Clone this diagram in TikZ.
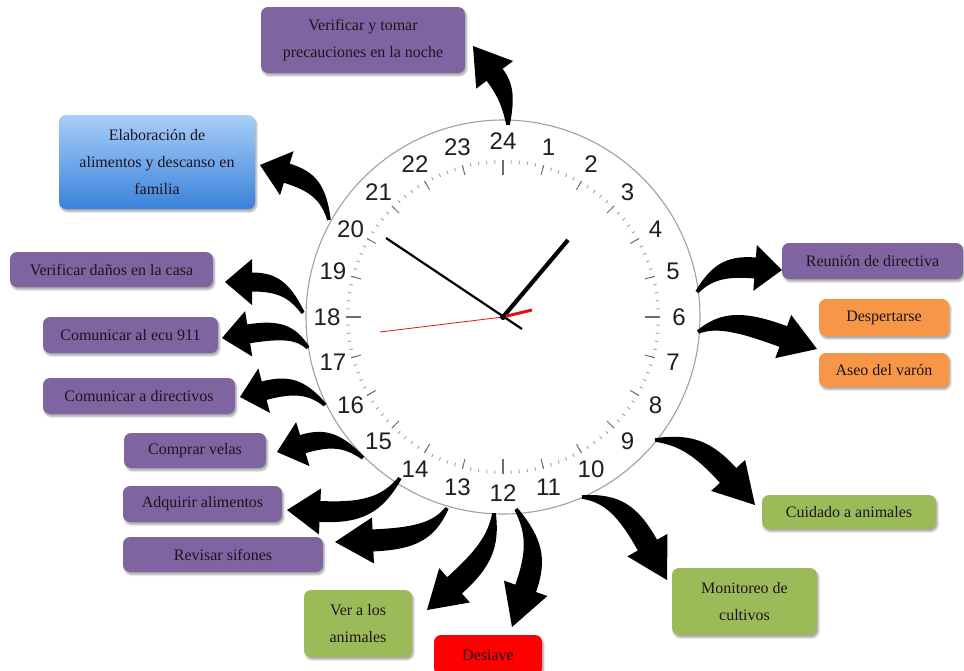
\documentclass[tikz,border=0pt]{standalone}
\usepackage{fontspec}
\setmainfont{Liberation Serif}
\newfontfamily\dialfont{Liberation Sans}
\usetikzlibrary{calc,shadows.blur}

\definecolor{boxpurple}{RGB}{128,100,162}
\definecolor{boxorange}{RGB}{247,150,70}
\definecolor{boxgreen}{RGB}{155,187,89}
\definecolor{boxred}{RGB}{255,0,0}
\definecolor{bluetop}{RGB}{168,206,250}
\definecolor{bluebot}{RGB}{58,130,218}
\definecolor{boxtext}{RGB}{30,20,30}
\definecolor{rimgray}{RGB}{160,160,160}
\definecolor{tickgray}{RGB}{110,110,110}
\definecolor{handred}{RGB}{225,20,20}

% fixed sizes of the bent block arrows
\newcommand\clkHead{23pt}
\newcommand\clkTail{1.8pt}

% #1 name, #2 tail on the rim, #3 bend control, #4 tip,
% #5 head length, #6 half width of the shaft at the head
\newcommand\clockarrow[6]{%
  \coordinate (#1-s) at #2;
  \coordinate (#1-c) at #3;
  \coordinate (#1-t) at #4;
  \coordinate (#1-b) at ($(#1-t)!#5pt!(#1-c)$);
  \coordinate (#1-cl) at ($(#1-c)!#6pt!90:(#1-t)$);
  \coordinate (#1-cr) at ($(#1-c)!#6pt!-90:(#1-t)$);
  \coordinate (#1-sl) at ($(#1-s)!\clkTail!90:(#1-c)$);
  \coordinate (#1-sr) at ($(#1-s)!\clkTail!-90:(#1-c)$);
  \coordinate (#1-bl) at ($(#1-b)!#6pt!90:(#1-t)$);
  \coordinate (#1-br) at ($(#1-b)!#6pt!-90:(#1-t)$);
  \fill[arrowink]
    (#1-sl) .. controls ($(#1-sl)!0.75!(#1-cl)$) and ($(#1-bl)!0.75!(#1-cl)$) ..
    (#1-bl) -- ($(#1-b)!\clkHead!90:(#1-t)$) -- (#1-t) --
    ($(#1-b)!\clkHead!-90:(#1-t)$) -- (#1-br)
    .. controls ($(#1-br)!0.75!(#1-cr)$) and ($(#1-sr)!0.75!(#1-cr)$) ..
    (#1-sr) -- cycle;
}

\tikzset{
  task/.style={rounded corners=7pt, inner sep=0pt, align=center,
    text=boxtext, font=\fontsize{16}{27}\selectfont,
    blur shadow={shadow xshift=1.5pt, shadow yshift=-2.5pt,
      shadow blur steps=6, shadow opacity=35}},
  purplebox/.style={task, fill=boxpurple},
  orangebox/.style={task, fill=boxorange},
  greenbox/.style={task, fill=boxgreen},
  redbox/.style={task, fill=boxred},
  bluebox/.style={task, top color=bluetop, bottom color=bluebot},
  arrowink/.style={fill=black},
  dialnum/.style={font=\dialfont\fontsize{24}{24}\selectfont, text=black!88, inner sep=0pt},
  rim/.style={draw=rimgray, line width=1.1pt, fill=white},
}

\begin{document}
\begin{tikzpicture}[x=1pt,y=-1pt]
\useasboundingbox (0,0) rectangle (964,670);

% ---- clock face ----
\coordinate (ctr) at (503,317);
\draw[rim] (ctr) circle[radius=197];
\foreach \a in {0,3,...,357}
  \draw[tickgray!70, line width=0.8pt] ($(ctr)+(\a:157)$) -- ($(ctr)+(\a:153.5)$);
\foreach \a in {0,15,...,345}
  \draw[tickgray, line width=1pt] ($(ctr)+(\a:157)$) -- ($(ctr)+(\a:147)$);
\foreach \a in {0,90,180,270}
  \draw[tickgray, line width=1.2pt] ($(ctr)+(\a:157)$) -- ($(ctr)+(\a:142)$);
\foreach \h in {1,...,24}
  \node[dialnum] (h\h) at ($(ctr)+({15*\h-90}:176)$) {\h};

% hands
\coordinate (hourend) at (568,240);
\coordinate (minstart) at (386,238);
\coordinate (minend) at (522,329);
\coordinate (secstart) at (380,332);
\coordinate (secend) at (532,310);
\draw[line width=4.2pt, black] (ctr) -- (hourend);
\draw[line width=2.2pt, black] (minstart) -- (minend);
\draw[line width=0.8pt, handred] (secstart) -- (ctr);
\draw[line width=3pt, handred] (ctr) -- (secend);
\fill[black] (ctr) circle[radius=3];

% ---- task boxes ----
\node[purplebox, minimum width=204, minimum height=66] (noche) at (363,40)
  {Verificar y tomar\\precauciones en la noche};
\node[bluebox, minimum width=196, minimum height=94] (elab) at (157,162)
  {Elaboración de\\alimentos y descanso en\\familia};
\node[purplebox, minimum width=203, minimum height=35] (danos) at (111.5,269.5)
  {Verificar daños en la casa};
\node[purplebox, minimum width=175, minimum height=36] (ecu) at (130.5,335)
  {Comunicar al ecu 911};
\node[purplebox, minimum width=192, minimum height=36] (direc) at (139,396)
  {Comunicar a directivos};
\node[purplebox, minimum width=142, minimum height=35] (velas) at (195,450.5)
  {Comprar velas};
\node[purplebox, minimum width=159, minimum height=36] (adq) at (202.5,504)
  {Adquirir alimentos};
\node[purplebox, minimum width=200, minimum height=35] (sif) at (223,554.5)
  {Revisar sifones};
\node[purplebox, minimum width=181, minimum height=36] (reun) at (872.5,261)
  {Reunión de directiva};
\node[orangebox, minimum width=130, minimum height=37] (desp) at (884,317.5)
  {Despertarse};
\node[orangebox, minimum width=130, minimum height=34] (aseo) at (884,370)
  {Aseo del varón};
\node[greenbox, minimum width=174, minimum height=34] (cuid) at (849,512)
  {Cuidado a animales};
\node[greenbox, minimum width=145, minimum height=67] (monit) at (744.5,601.5)
  {Monitoreo de\\cultivos};
\node[greenbox, minimum width=108, minimum height=67] (ver) at (358,623.5)
  {Ver a los\\animales};
\node[redbox, minimum width=108, minimum height=40] (desl) at (488,655)
  {Deslave};

% ---- bent arrows from the rim to the tasks ----
\clockarrow{a24}{(508,125)}{(509,94)}{(473,46)}{36}{10}
\clockarrow{a20}{(329,220)}{(322,184)}{(260,165)}{28}{10}
\clockarrow{a18}{(303,313)}{(285,282)}{(225,282)}{27}{9.5}
\clockarrow{a17}{(308,348)}{(292,327)}{(222,338)}{27}{9.5}
\clockarrow{a16}{(325,405)}{(301,381)}{(240,397)}{25}{9.5}
\clockarrow{a15}{(363,458)}{(336,434)}{(277,452)}{27}{9.5}
\clockarrow{a14}{(400,478)}{(376,514)}{(287,510)}{33}{10.5}
\clockarrow{a13}{(447,508)}{(430,538)}{(335,542)}{38}{11}
\clockarrow{a12l}{(494,513)}{(494,550)}{(427,610)}{37}{11}
\clockarrow{a12r}{(516,509)}{(541,545)}{(512,627)}{41}{11}
\clockarrow{a11}{(582,497)}{(621,498)}{(667,580)}{40}{11}
\clockarrow{a9}{(655,440)}{(695,439)}{(755,505)}{40}{11}
\clockarrow{a5}{(697,292)}{(717,265)}{(782,270)}{27}{10.5}
\clockarrow{a6}{(698,332)}{(725,315)}{(817,349)}{36}{11}
\end{tikzpicture}
\end{document}
